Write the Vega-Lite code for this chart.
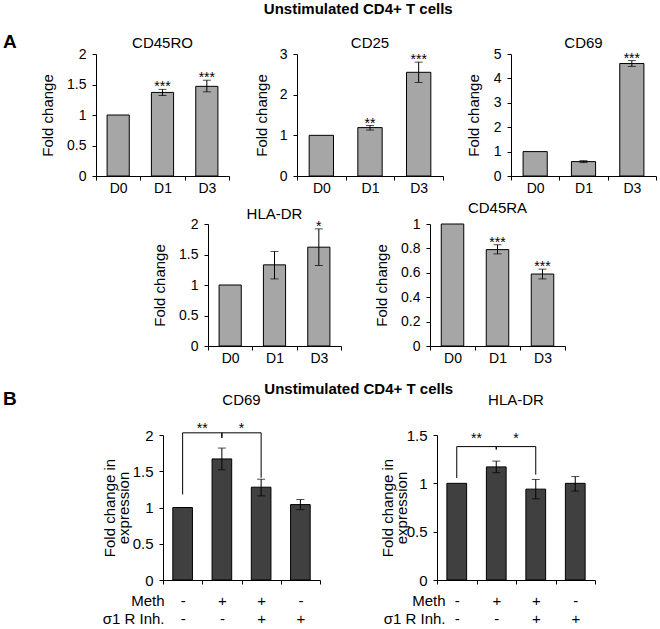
{
  "$schema": "https://vega.github.io/schema/vega-lite/v6.json",
  "padding": {"top": 2, "left": 0, "right": 0, "bottom": 0},
  "background": "white",
  "title": {"text": "Unstimulated CD4+ T cells", "fontSize": 15, "fontWeight": "bold", "anchor": "middle", "offset": 16, "dx": 30},
  "datasets": {
    "cd45ro": [
      {"day": "D0", "v": 1.0, "lo": null, "hi": null, "star": ""},
      {"day": "D1", "v": 1.37, "lo": 1.32, "hi": 1.42, "star": "***"},
      {"day": "D3", "v": 1.47, "lo": 1.38, "hi": 1.57, "star": "***"}
    ],
    "cd25": [
      {"day": "D0", "v": 1.0, "lo": null, "hi": null, "star": ""},
      {"day": "D1", "v": 1.19, "lo": 1.13, "hi": 1.24, "star": "**"},
      {"day": "D3", "v": 2.55, "lo": 2.3, "hi": 2.8, "star": "***"}
    ],
    "cd69": [
      {"day": "D0", "v": 1.0, "lo": null, "hi": null, "star": ""},
      {"day": "D1", "v": 0.59, "lo": 0.55, "hi": 0.63, "star": ""},
      {"day": "D3", "v": 4.61, "lo": 4.49, "hi": 4.73, "star": "***"}
    ],
    "hladr": [
      {"day": "D0", "v": 1.0, "lo": null, "hi": null, "star": ""},
      {"day": "D1", "v": 1.33, "lo": 1.1, "hi": 1.55, "star": ""},
      {"day": "D3", "v": 1.62, "lo": 1.32, "hi": 1.92, "star": "*"}
    ],
    "cd45ra": [
      {"day": "D0", "v": 1.0, "lo": null, "hi": null, "star": ""},
      {"day": "D1", "v": 0.79, "lo": 0.755, "hi": 0.83, "star": "***"},
      {"day": "D3", "v": 0.59, "lo": 0.55, "hi": 0.63, "star": "***"}
    ],
    "b_cd69": [
      {"cond": "-|-", "v": 1.0, "lo": null, "hi": null},
      {"cond": "+|-", "v": 1.67, "lo": 1.52, "hi": 1.82},
      {"cond": "+|+", "v": 1.28, "lo": 1.16, "hi": 1.39},
      {"cond": "-|+", "v": 1.04, "lo": 0.97, "hi": 1.11}
    ],
    "br_cd69": [
      {"g": 1, "o": 1, "cond": "-|-", "y": 1.18},
      {"g": 1, "o": 2, "cond": "-|-", "y": 2.03},
      {"g": 1, "o": 3, "cond": "+|-", "y": 2.03},
      {"g": 1, "o": 4, "cond": "+|-", "y": 1.96},
      {"g": 2, "o": 1, "cond": "+|-", "y": 1.96},
      {"g": 2, "o": 2, "cond": "+|-", "y": 2.03},
      {"g": 2, "o": 3, "cond": "+|+", "y": 2.03},
      {"g": 2, "o": 4, "cond": "+|+", "y": 1.41}
    ],
    "st_cd69": [
      {"cond": "-|-", "y": 2.03, "s": "**"},
      {"cond": "+|-", "y": 2.03, "s": "*"}
    ],
    "b_hladr": [
      {"cond": "-|-", "v": 1.0, "lo": null, "hi": null},
      {"cond": "+|-", "v": 1.17, "lo": 1.11, "hi": 1.23},
      {"cond": "+|+", "v": 0.94, "lo": 0.84, "hi": 1.04},
      {"cond": "-|+", "v": 1.0, "lo": 0.92, "hi": 1.07}
    ],
    "br_hladr": [
      {"g": 1, "o": 1, "cond": "-|-", "y": 1.055},
      {"g": 1, "o": 2, "cond": "-|-", "y": 1.38},
      {"g": 1, "o": 3, "cond": "+|-", "y": 1.38},
      {"g": 1, "o": 4, "cond": "+|-", "y": 1.35},
      {"g": 2, "o": 1, "cond": "+|-", "y": 1.35},
      {"g": 2, "o": 2, "cond": "+|-", "y": 1.38},
      {"g": 2, "o": 3, "cond": "+|+", "y": 1.38},
      {"g": 2, "o": 4, "cond": "+|+", "y": 1.09}
    ],
    "st_hladr": [
      {"cond": "-|-", "y": 1.38, "s": "**"},
      {"cond": "+|-", "y": 1.38, "s": "*"}
    ]
  },
  "spacing": 6,
  "vconcat": [
    {
      "bounds": "flush",
      "spacing": 68,
      "hconcat": [
        {"width": 28, "height": 122, "title": {"text": "A", "fontSize": 19, "fontWeight": "bold", "anchor": "start", "offset": 2, "dx": 3}, "data": {"values": [{}]}, "mark": {"type": "text", "text": ""}, "encoding": {}},
        {
          "width": 133, "height": 122,
          "title": {"text": "CD45RO", "offset": -4},
          "data": {"name": "cd45ro"},
          "encoding": {"x": {"field": "day", "type": "nominal", "title": null, "scale": {"domain": ["D0", "D1", "D3"], "paddingInner": 0, "paddingOuter": 0}}},
          "layer": [
            {"mark": {"type": "bar", "width": {"band": 0.5}, "fill": "#a6a6a6", "stroke": "#000000", "strokeWidth": 1},
             "encoding": {"y": {"field": "v", "type": "quantitative", "title": "Fold change", "scale": {"domain": [0, 2], "nice": false}, "axis": {"values": [0, 0.5, 1, 1.5, 2], "titleX": -49}}}},
            {"transform": [{"filter": "datum.hi != null"}], "mark": {"type": "rule", "color": "#000000"},
             "encoding": {"y": {"field": "lo", "type": "quantitative", "title": "Fold change", "scale": {"domain": [0, 2], "nice": false}, "axis": {"values": [0, 0.5, 1, 1.5, 2], "titleX": -49}}, "y2": {"field": "hi"}}},
            {"transform": [{"filter": "datum.hi != null"}], "mark": {"type": "tick", "size": 8, "thickness": 1, "color": "#000000"},
             "encoding": {"y": {"field": "lo", "type": "quantitative", "title": "Fold change", "scale": {"domain": [0, 2], "nice": false}, "axis": {"values": [0, 0.5, 1, 1.5, 2], "titleX": -49}}}},
            {"transform": [{"filter": "datum.hi != null"}], "mark": {"type": "tick", "size": 8, "thickness": 1, "color": "#000000"},
             "encoding": {"y": {"field": "hi", "type": "quantitative", "title": "Fold change", "scale": {"domain": [0, 2], "nice": false}, "axis": {"values": [0, 0.5, 1, 1.5, 2], "titleX": -49}}}},
            {"transform": [{"filter": "datum.hi != null"}], "mark": {"type": "text", "baseline": "alphabetic", "dy": 2, "fontSize": 14, "color": "#000000"},
             "encoding": {"y": {"field": "hi", "type": "quantitative", "title": "Fold change", "scale": {"domain": [0, 2], "nice": false}, "axis": {"values": [0, 0.5, 1, 1.5, 2], "titleX": -49}}, "text": {"field": "star"}}}
          ]
        },
        {
          "width": 146, "height": 122,
          "title": {"text": "CD25", "offset": -4},
          "data": {"name": "cd25"},
          "encoding": {"x": {"field": "day", "type": "nominal", "title": null, "scale": {"domain": ["D0", "D1", "D3"], "paddingInner": 0, "paddingOuter": 0}}},
          "layer": [
            {"mark": {"type": "bar", "width": {"band": 0.5}, "fill": "#a6a6a6", "stroke": "#000000", "strokeWidth": 1},
             "encoding": {"y": {"field": "v", "type": "quantitative", "title": "Fold change", "scale": {"domain": [0, 3], "nice": false}, "axis": {"values": [0, 1, 2, 3], "titleX": -36}}}},
            {"transform": [{"filter": "datum.hi != null"}], "mark": {"type": "rule", "color": "#000000"},
             "encoding": {"y": {"field": "lo", "type": "quantitative", "title": "Fold change", "scale": {"domain": [0, 3], "nice": false}, "axis": {"values": [0, 1, 2, 3], "titleX": -36}}, "y2": {"field": "hi"}}},
            {"transform": [{"filter": "datum.hi != null"}], "mark": {"type": "tick", "size": 8, "thickness": 1, "color": "#000000"},
             "encoding": {"y": {"field": "lo", "type": "quantitative", "title": "Fold change", "scale": {"domain": [0, 3], "nice": false}, "axis": {"values": [0, 1, 2, 3], "titleX": -36}}}},
            {"transform": [{"filter": "datum.hi != null"}], "mark": {"type": "tick", "size": 8, "thickness": 1, "color": "#000000"},
             "encoding": {"y": {"field": "hi", "type": "quantitative", "title": "Fold change", "scale": {"domain": [0, 3], "nice": false}, "axis": {"values": [0, 1, 2, 3], "titleX": -36}}}},
            {"transform": [{"filter": "datum.hi != null"}], "mark": {"type": "text", "baseline": "alphabetic", "dy": 2, "fontSize": 14, "color": "#000000"},
             "encoding": {"y": {"field": "hi", "type": "quantitative", "title": "Fold change", "scale": {"domain": [0, 3], "nice": false}, "axis": {"values": [0, 1, 2, 3], "titleX": -36}}, "text": {"field": "star"}}}
          ]
        },
        {
          "width": 145, "height": 122,
          "title": {"text": "CD69", "offset": -4},
          "data": {"name": "cd69"},
          "encoding": {"x": {"field": "day", "type": "nominal", "title": null, "scale": {"domain": ["D0", "D1", "D3"], "paddingInner": 0, "paddingOuter": 0}}},
          "layer": [
            {"mark": {"type": "bar", "width": {"band": 0.5}, "fill": "#a6a6a6", "stroke": "#000000", "strokeWidth": 1},
             "encoding": {"y": {"field": "v", "type": "quantitative", "title": "Fold change", "scale": {"domain": [0, 5], "nice": false}, "axis": {"values": [0, 1, 2, 3, 4, 5], "titleX": -38}}}},
            {"transform": [{"filter": "datum.hi != null"}], "mark": {"type": "rule", "color": "#000000"},
             "encoding": {"y": {"field": "lo", "type": "quantitative", "title": "Fold change", "scale": {"domain": [0, 5], "nice": false}, "axis": {"values": [0, 1, 2, 3, 4, 5], "titleX": -38}}, "y2": {"field": "hi"}}},
            {"transform": [{"filter": "datum.hi != null"}], "mark": {"type": "tick", "size": 8, "thickness": 1, "color": "#000000"},
             "encoding": {"y": {"field": "lo", "type": "quantitative", "title": "Fold change", "scale": {"domain": [0, 5], "nice": false}, "axis": {"values": [0, 1, 2, 3, 4, 5], "titleX": -38}}}},
            {"transform": [{"filter": "datum.hi != null"}], "mark": {"type": "tick", "size": 8, "thickness": 1, "color": "#000000"},
             "encoding": {"y": {"field": "hi", "type": "quantitative", "title": "Fold change", "scale": {"domain": [0, 5], "nice": false}, "axis": {"values": [0, 1, 2, 3, 4, 5], "titleX": -38}}}},
            {"transform": [{"filter": "datum.hi != null"}], "mark": {"type": "text", "baseline": "alphabetic", "dy": 2, "fontSize": 14, "color": "#000000"},
             "encoding": {"y": {"field": "hi", "type": "quantitative", "title": "Fold change", "scale": {"domain": [0, 5], "nice": false}, "axis": {"values": [0, 1, 2, 3, 4, 5], "titleX": -38}}, "text": {"field": "star"}}}
          ]
        }
      ]
    },
    {
      "bounds": "flush",
      "spacing": 89,
      "hconcat": [
        {"width": 119, "height": 152, "data": {"values": [{}]}, "mark": {"type": "text", "text": ""}, "encoding": {}},
        {
          "width": 133, "height": 122,
          "title": {"text": "HLA-DR", "offset": -5},
          "data": {"name": "hladr"},
          "encoding": {"x": {"field": "day", "type": "nominal", "title": null, "scale": {"domain": ["D0", "D1", "D3"], "paddingInner": 0, "paddingOuter": 0}}},
          "layer": [
            {"mark": {"type": "bar", "width": {"band": 0.5}, "fill": "#a6a6a6", "stroke": "#000000", "strokeWidth": 1},
             "encoding": {"y": {"field": "v", "type": "quantitative", "title": "Fold change", "scale": {"domain": [0, 2], "nice": false}, "axis": {"values": [0, 0.5, 1, 1.5, 2], "titleX": -49}}}},
            {"transform": [{"filter": "datum.hi != null"}], "mark": {"type": "rule", "color": "#000000"},
             "encoding": {"y": {"field": "lo", "type": "quantitative", "title": "Fold change", "scale": {"domain": [0, 2], "nice": false}, "axis": {"values": [0, 0.5, 1, 1.5, 2], "titleX": -49}}, "y2": {"field": "hi"}}},
            {"transform": [{"filter": "datum.hi != null"}], "mark": {"type": "tick", "size": 8, "thickness": 1, "color": "#000000"},
             "encoding": {"y": {"field": "lo", "type": "quantitative", "title": "Fold change", "scale": {"domain": [0, 2], "nice": false}, "axis": {"values": [0, 0.5, 1, 1.5, 2], "titleX": -49}}}},
            {"transform": [{"filter": "datum.hi != null"}], "mark": {"type": "tick", "size": 8, "thickness": 1, "color": "#000000"},
             "encoding": {"y": {"field": "hi", "type": "quantitative", "title": "Fold change", "scale": {"domain": [0, 2], "nice": false}, "axis": {"values": [0, 0.5, 1, 1.5, 2], "titleX": -49}}}},
            {"transform": [{"filter": "datum.hi != null"}], "mark": {"type": "text", "baseline": "alphabetic", "dy": 2, "fontSize": 14, "color": "#000000"},
             "encoding": {"y": {"field": "hi", "type": "quantitative", "title": "Fold change", "scale": {"domain": [0, 2], "nice": false}, "axis": {"values": [0, 0.5, 1, 1.5, 2], "titleX": -49}}, "text": {"field": "star"}}}
          ]
        },
        {
          "width": 135, "height": 122,
          "title": {"text": "CD45RA", "offset": 1},
          "data": {"name": "cd45ra"},
          "encoding": {"x": {"field": "day", "type": "nominal", "title": null, "scale": {"domain": ["D0", "D1", "D3"], "paddingInner": 0, "paddingOuter": 0}}},
          "layer": [
            {"mark": {"type": "bar", "width": {"band": 0.5}, "fill": "#a6a6a6", "stroke": "#000000", "strokeWidth": 1},
             "encoding": {"y": {"field": "v", "type": "quantitative", "title": "Fold change", "scale": {"domain": [0, 1], "nice": false}, "axis": {"values": [0, 0.2, 0.4, 0.6, 0.8, 1], "titleX": -49}}}},
            {"transform": [{"filter": "datum.hi != null"}], "mark": {"type": "rule", "color": "#000000"},
             "encoding": {"y": {"field": "lo", "type": "quantitative", "title": "Fold change", "scale": {"domain": [0, 1], "nice": false}, "axis": {"values": [0, 0.2, 0.4, 0.6, 0.8, 1], "titleX": -49}}, "y2": {"field": "hi"}}},
            {"transform": [{"filter": "datum.hi != null"}], "mark": {"type": "tick", "size": 8, "thickness": 1, "color": "#000000"},
             "encoding": {"y": {"field": "lo", "type": "quantitative", "title": "Fold change", "scale": {"domain": [0, 1], "nice": false}, "axis": {"values": [0, 0.2, 0.4, 0.6, 0.8, 1], "titleX": -49}}}},
            {"transform": [{"filter": "datum.hi != null"}], "mark": {"type": "tick", "size": 8, "thickness": 1, "color": "#000000"},
             "encoding": {"y": {"field": "hi", "type": "quantitative", "title": "Fold change", "scale": {"domain": [0, 1], "nice": false}, "axis": {"values": [0, 0.2, 0.4, 0.6, 0.8, 1], "titleX": -49}}}},
            {"transform": [{"filter": "datum.hi != null"}], "mark": {"type": "text", "baseline": "alphabetic", "dy": 2, "fontSize": 14, "color": "#000000"},
             "encoding": {"y": {"field": "hi", "type": "quantitative", "title": "Fold change", "scale": {"domain": [0, 1], "nice": false}, "axis": {"values": [0, 0.2, 0.4, 0.6, 0.8, 1], "titleX": -49}}, "text": {"field": "star"}}}
          ]
        }
      ]
    },
    {
      "bounds": "flush",
      "spacing": 117,
      "title": {"text": "Unstimulated CD4+ T cells", "fontSize": 15, "fontWeight": "bold", "anchor": "middle", "offset": -7, "dx": 61},
      "hconcat": [
        {"width": 46, "height": 145, "title": {"text": "B", "fontSize": 19, "fontWeight": "bold", "anchor": "start", "offset": 26, "dx": 3}, "data": {"values": [{}]}, "mark": {"type": "text", "text": ""}, "encoding": {}},
        {
          "width": 157, "height": 145,
          "title": {"text": "CD69", "offset": 14},
          "encoding": {"x": {"field": "cond", "type": "nominal", "scale": {"domain": ["-|-", "+|-", "+|+", "-|+"], "paddingInner": 0, "paddingOuter": 0},
            "axis": {"labelExpr": "split(datum.label, '|')", "labelLineHeight": 18, "labelPadding": 9, "labelFontSize": 15, "title": ["Meth", "σ1 R Inh.   "], "titleX": 1, "titleY": 13, "titleAlign": "right", "titleBaseline": "top", "titleLineHeight": 18, "titleFontSize": 15}}},
          "layer": [
            {"data": {"name": "b_cd69"}, "mark": {"type": "bar", "width": {"band": 0.5}, "fill": "#404040", "stroke": "#000000", "strokeWidth": 1},
             "encoding": {"y": {"field": "v", "type": "quantitative", "scale": {"domain": [0, 2], "nice": false}, "axis": {"values": [0, 0.5, 1, 1.5, 2], "title": ["Fold change in", "expression"], "titleX": -54, "titleLineHeight": 14, "labelFontSize": 15}}}},
            {"data": {"name": "b_cd69"}, "transform": [{"filter": "datum.hi != null"}], "mark": {"type": "rule", "color": "#000000"},
             "encoding": {"y": {"field": "lo", "type": "quantitative", "scale": {"domain": [0, 2], "nice": false}, "axis": {"values": [0, 0.5, 1, 1.5, 2], "title": ["Fold change in", "expression"], "titleX": -54, "titleLineHeight": 14, "labelFontSize": 15}}, "y2": {"field": "hi"}}},
            {"data": {"name": "b_cd69"}, "transform": [{"filter": "datum.hi != null"}], "mark": {"type": "tick", "size": 8, "thickness": 1, "color": "#000000"},
             "encoding": {"y": {"field": "lo", "type": "quantitative", "scale": {"domain": [0, 2], "nice": false}, "axis": {"values": [0, 0.5, 1, 1.5, 2], "title": ["Fold change in", "expression"], "titleX": -54, "titleLineHeight": 14, "labelFontSize": 15}}}},
            {"data": {"name": "b_cd69"}, "transform": [{"filter": "datum.hi != null"}], "mark": {"type": "tick", "size": 8, "thickness": 1, "color": "#000000"},
             "encoding": {"y": {"field": "hi", "type": "quantitative", "scale": {"domain": [0, 2], "nice": false}, "axis": {"values": [0, 0.5, 1, 1.5, 2], "title": ["Fold change in", "expression"], "titleX": -54, "titleLineHeight": 14, "labelFontSize": 15}}}},
            {"data": {"name": "br_cd69"}, "mark": {"type": "line", "color": "#000000", "strokeWidth": 1},
             "encoding": {"y": {"field": "y", "type": "quantitative", "scale": {"domain": [0, 2], "nice": false}, "axis": {"values": [0, 0.5, 1, 1.5, 2], "title": ["Fold change in", "expression"], "titleX": -54, "titleLineHeight": 14, "labelFontSize": 15}}, "detail": {"field": "g"}, "order": {"field": "o"}}},
            {"data": {"name": "st_cd69"}, "mark": {"type": "text", "baseline": "alphabetic", "dy": 0, "fontSize": 14, "color": "#000000"},
             "encoding": {"x": {"field": "cond", "type": "nominal", "bandPosition": 1}, "y": {"field": "y", "type": "quantitative", "scale": {"domain": [0, 2], "nice": false}, "axis": {"values": [0, 0.5, 1, 1.5, 2], "title": ["Fold change in", "expression"], "titleX": -54, "titleLineHeight": 14, "labelFontSize": 15}}, "text": {"field": "s"}}}
          ]
        },
        {
          "width": 158, "height": 145,
          "title": {"text": "HLA-DR", "offset": 20},
          "encoding": {"x": {"field": "cond", "type": "nominal", "scale": {"domain": ["-|-", "+|-", "+|+", "-|+"], "paddingInner": 0, "paddingOuter": 0},
            "axis": {"labelExpr": "split(datum.label, '|')", "labelLineHeight": 18, "labelPadding": 9, "labelFontSize": 15, "title": ["Meth", "σ1 R Inh.   "], "titleX": 8, "titleY": 13, "titleAlign": "right", "titleBaseline": "top", "titleLineHeight": 18, "titleFontSize": 15}}},
          "layer": [
            {"data": {"name": "b_hladr"}, "mark": {"type": "bar", "width": {"band": 0.5}, "fill": "#404040", "stroke": "#000000", "strokeWidth": 1},
             "encoding": {"y": {"field": "v", "type": "quantitative", "scale": {"domain": [0, 1.5], "nice": false}, "axis": {"values": [0, 0.5, 1, 1.5], "title": ["Fold change in", "expression"], "titleX": -50, "titleLineHeight": 14, "labelFontSize": 15}}}},
            {"data": {"name": "b_hladr"}, "transform": [{"filter": "datum.hi != null"}], "mark": {"type": "rule", "color": "#000000"},
             "encoding": {"y": {"field": "lo", "type": "quantitative", "scale": {"domain": [0, 1.5], "nice": false}, "axis": {"values": [0, 0.5, 1, 1.5], "title": ["Fold change in", "expression"], "titleX": -50, "titleLineHeight": 14, "labelFontSize": 15}}, "y2": {"field": "hi"}}},
            {"data": {"name": "b_hladr"}, "transform": [{"filter": "datum.hi != null"}], "mark": {"type": "tick", "size": 8, "thickness": 1, "color": "#000000"},
             "encoding": {"y": {"field": "lo", "type": "quantitative", "scale": {"domain": [0, 1.5], "nice": false}, "axis": {"values": [0, 0.5, 1, 1.5], "title": ["Fold change in", "expression"], "titleX": -50, "titleLineHeight": 14, "labelFontSize": 15}}}},
            {"data": {"name": "b_hladr"}, "transform": [{"filter": "datum.hi != null"}], "mark": {"type": "tick", "size": 8, "thickness": 1, "color": "#000000"},
             "encoding": {"y": {"field": "hi", "type": "quantitative", "scale": {"domain": [0, 1.5], "nice": false}, "axis": {"values": [0, 0.5, 1, 1.5], "title": ["Fold change in", "expression"], "titleX": -50, "titleLineHeight": 14, "labelFontSize": 15}}}},
            {"data": {"name": "br_hladr"}, "mark": {"type": "line", "color": "#000000", "strokeWidth": 1},
             "encoding": {"y": {"field": "y", "type": "quantitative", "scale": {"domain": [0, 1.5], "nice": false}, "axis": {"values": [0, 0.5, 1, 1.5], "title": ["Fold change in", "expression"], "titleX": -50, "titleLineHeight": 14, "labelFontSize": 15}}, "detail": {"field": "g"}, "order": {"field": "o"}}},
            {"data": {"name": "st_hladr"}, "mark": {"type": "text", "baseline": "alphabetic", "dy": -4, "fontSize": 14, "color": "#000000"},
             "encoding": {"x": {"field": "cond", "type": "nominal", "bandPosition": 1}, "y": {"field": "y", "type": "quantitative", "scale": {"domain": [0, 1.5], "nice": false}, "axis": {"values": [0, 0.5, 1, 1.5], "title": ["Fold change in", "expression"], "titleX": -50, "titleLineHeight": 14, "labelFontSize": 15}}, "text": {"field": "s"}}}
          ]
        }
      ]
    }
  ],
  "config": {
    "view": {"stroke": null},
    "font": "Liberation Sans",
    "title": {"font": "Liberation Sans", "fontSize": 15, "fontWeight": "normal", "color": "#000000", "anchor": "middle", "baseline": "alphabetic"},
    "axis": {"domainColor": "#000000", "domainWidth": 1, "tickColor": "#000000", "tickWidth": 1, "tickSize": 4, "labelColor": "#000000", "labelFont": "Liberation Sans", "labelFontSize": 14, "titleColor": "#000000", "titleFont": "Liberation Sans", "titleFontSize": 15, "titleFontWeight": "normal", "grid": false},
    "axisY": {"labelPadding": 6, "format": "~g", "titleBaseline": "middle"},
    "axisX": {"labelAngle": 0, "labelPadding": 1, "tickBand": "extent"}
  }
}
